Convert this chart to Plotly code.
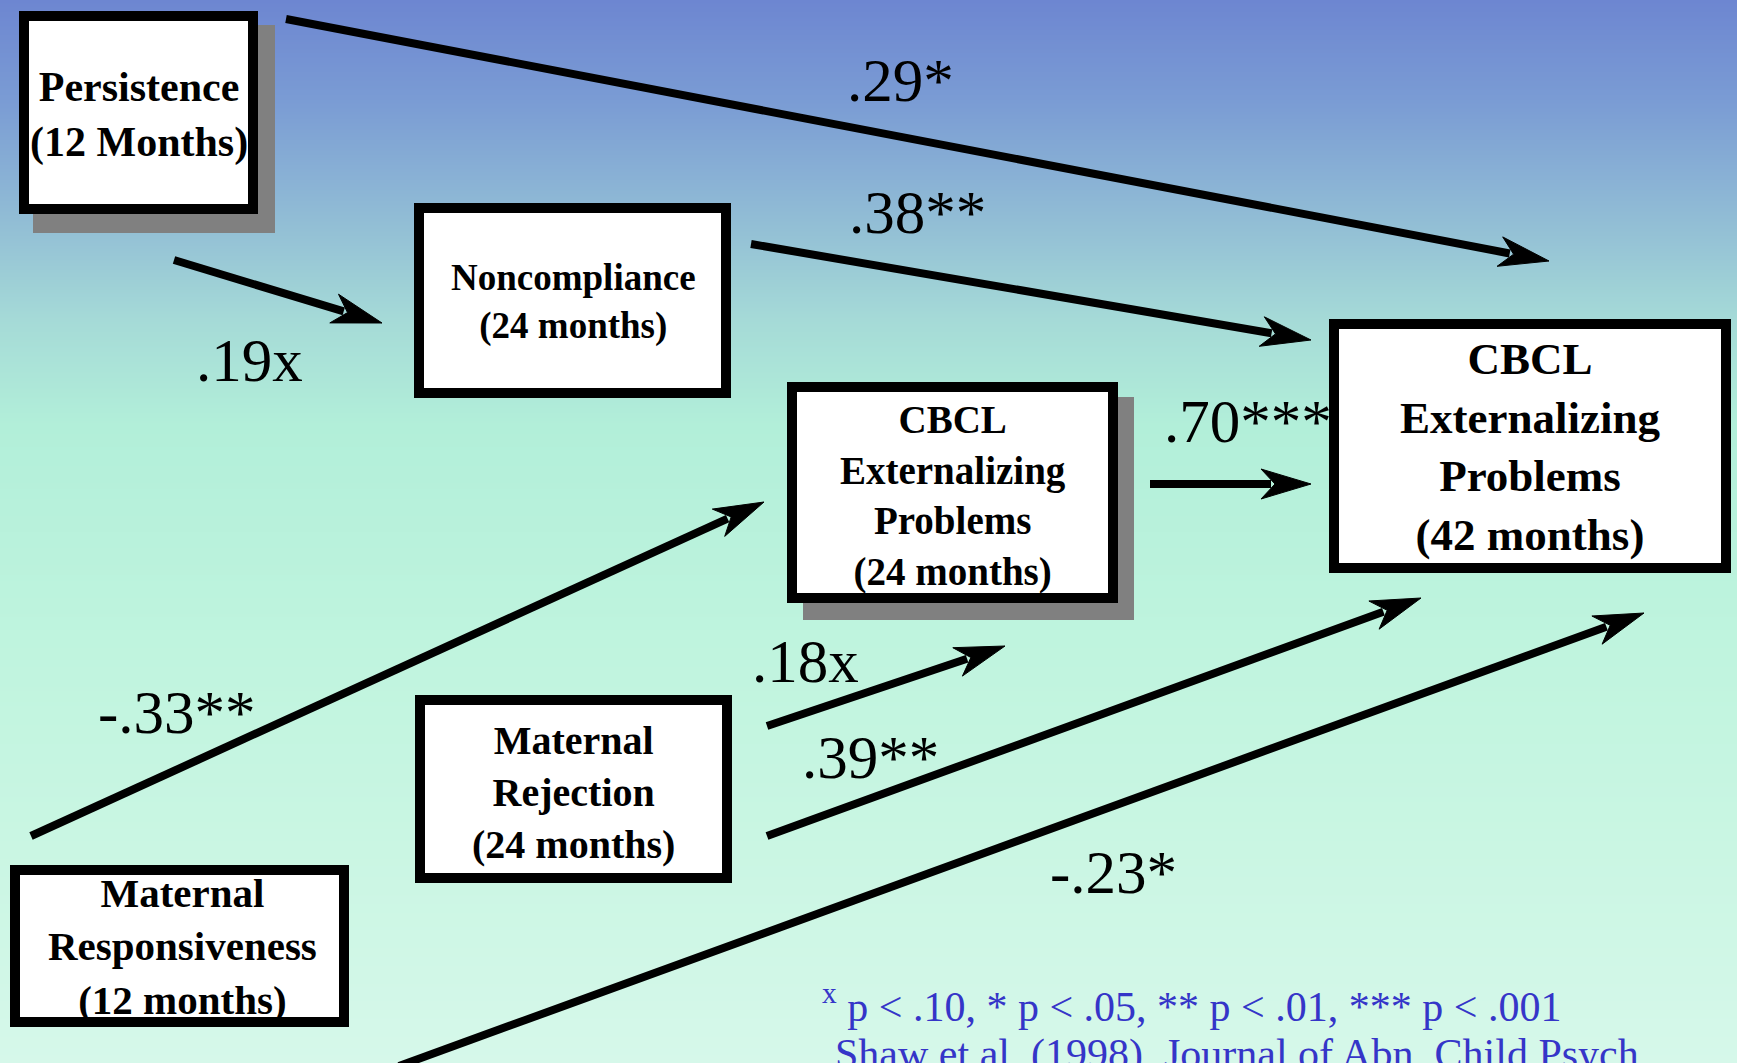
import math
import plotly.graph_objects as go

W, H = 1737, 1063

# ---------------- data ----------------
node_labels = [
    "Persistence<br>(12 Months)",
    "Noncompliance<br>(24 months)",
    "CBCL<br>Externalizing<br>Problems<br>(24 months)",
    "CBCL<br>Externalizing<br>Problems<br>(42 months)",
    "Maternal<br>Rejection<br>(24 months)",
    "Maternal<br>Responsiveness<br>(12 months)",
]
path_coefficients = [".29*", ".19x", ".38**", ".70***", "-.33**", ".18x", ".39**", "-.23*"]
footnote_lines = [
    "<sup>x</sup> p < .10, * p < .05, ** p < .01, *** p < .001",
    "Shaw et al. (1998). Journal of Abn. Child Psych.",
]
gradient_stops = [0.0, 0.1, 0.2, 0.3, 0.4, 0.6, 0.8, 1.0]
gradient_colors = ["#6d86d1", "#7b9dd4", "#90bbd5", "#a5dad7",
                   "#b2efd9", "#bff4de", "#caf6e3", "#d6f8ea"]

# ---------------- layout (pixel geometry) ----------------
# outer edges of boxes: x0, x1, y0, y1
node_box = [
    (19, 258, 11, 214),
    (414, 731, 203, 398),
    (787, 1118, 382, 603),
    (1329, 1731, 319, 573),
    (415, 732, 695, 883),
    (10, 349, 865, 1027),
]
node_text_pos = [(139, 115), (573, 302), (953, 496), (1530, 447), (573, 792), (182, 946)]
node_font = [42, 37, 39, 45, 40, 41]
node_shadow = [(33, 275, 25, 233), None, (803, 1134, 397, 620), None, None, None]

arrow_geom = [  # start x, start y, tip x, tip y
    (286, 19, 1549, 261),
    (174, 260, 382, 323),
    (751, 244, 1311, 340),
    (1150, 484, 1311, 484),
    (31, 836, 764, 502),
    (767, 726, 1005, 646),
    (767, 836, 1421, 598),
    (399, 1066, 1644, 613),
]
coef_pos = [  # x, y, xanchor
    (900, 80, "center"),
    (249, 360, "center"),
    (917, 212, "center"),
    (1334, 421, "right"),
    (177, 712, "center"),
    (805, 661, "center"),
    (870, 757, "center"),
    (1113, 872, "center"),
]
foot_pos = [(820, 1003), (833, 1054)]

SERIF = "Liberation Serif, Times New Roman, serif"
BORDER = 10
LINE_W = 8
HEAD_L, HEAD_HW, HEAD_NOTCH = 50, 15, 36

fig = go.Figure()

# background gradient
ys = [s * H for s in gradient_stops]
fig.add_trace(go.Heatmap(
    x=[0, W], y=ys, z=[[s, s] for s in gradient_stops],
    colorscale=[[s, c] for s, c in zip(gradient_stops, gradient_colors)],
    zmin=0, zmax=1, zsmooth="best", showscale=False, hoverinfo="skip",
))

shapes = []
for sh in node_shadow:
    if sh:
        x0, x1, y0, y1 = sh
        shapes.append(dict(type="rect", xref="x", yref="y", x0=x0, x1=x1, y0=y0, y1=y1,
                           fillcolor="#808080", line=dict(width=0)))
for (x0, x1, y0, y1) in node_box:
    h = BORDER / 2
    shapes.append(dict(type="rect", xref="x", yref="y", x0=x0 + h, x1=x1 - h, y0=y0 + h, y1=y1 - h,
                       fillcolor="white", line=dict(color="black", width=BORDER)))

# arrows: shaft + barbed head
for (sx, sy, ex, ey) in arrow_geom:
    length = math.hypot(ex - sx, ey - sy)
    dx, dy = (ex - sx) / length, (ey - sy) / length
    nx, ny = -dy, dx
    shaft_end = (ex - (HEAD_NOTCH + 4) * dx, ey - (HEAD_NOTCH + 4) * dy)
    shapes.append(dict(type="line", xref="x", yref="y", x0=sx, y0=sy,
                       x1=shaft_end[0], y1=shaft_end[1],
                       line=dict(color="black", width=LINE_W)))
    b1 = (ex - HEAD_L * dx + HEAD_HW * nx, ey - HEAD_L * dy + HEAD_HW * ny)
    nt = (ex - HEAD_NOTCH * dx, ey - HEAD_NOTCH * dy)
    b2 = (ex - HEAD_L * dx - HEAD_HW * nx, ey - HEAD_L * dy - HEAD_HW * ny)
    path = "M {:.1f},{:.1f} L {:.1f},{:.1f} L {:.1f},{:.1f} L {:.1f},{:.1f} Z".format(
        ex, ey, b1[0], b1[1], nt[0], nt[1], b2[0], b2[1])
    shapes.append(dict(type="path", xref="x", yref="y", path=path,
                       fillcolor="black", line=dict(color="black", width=1)))

ann = []
for lab, (tx, ty), fs in zip(node_labels, node_text_pos, node_font):
    ann.append(dict(x=tx, y=ty, xref="x", yref="y", text=lab, showarrow=False,
                    xanchor="center", yanchor="middle", align="center",
                    font=dict(family=SERIF, size=fs, color="black", weight="bold")))

for lab, (cx, cy, xa) in zip(path_coefficients, coef_pos):
    ann.append(dict(x=cx, y=cy, xref="x", yref="y", text=lab, showarrow=False,
                    xanchor=xa, yanchor="middle",
                    font=dict(family=SERIF, size=61, color="black")))

for lab, (fx, fy) in zip(footnote_lines, foot_pos):
    ann.append(dict(x=fx, y=fy, xref="x", yref="y", text=lab, showarrow=False,
                    xanchor="left", yanchor="middle",
                    font=dict(family=SERIF, size=42, color="#3535c8")))

fig.update_layout(
    width=W, height=H, margin=dict(l=0, r=0, t=0, b=0),
    paper_bgcolor="#d6f8ea", plot_bgcolor="#d6f8ea",
    xaxis=dict(range=[0, W], visible=False, fixedrange=True),
    yaxis=dict(range=[H, 0], visible=False, fixedrange=True),
    shapes=shapes, annotations=ann, showlegend=False,
)

fig.write_html(
    "out.html",
    config={"displayModeBar": False},
    post_script="document.body.style.margin='0';document.body.style.overflow='hidden';",
)
